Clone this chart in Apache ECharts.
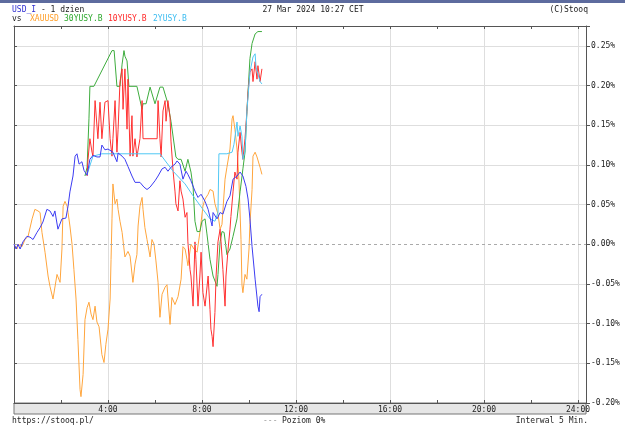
<!DOCTYPE html>
<html><head><meta charset="utf-8">
<script src="https://cdn.jsdelivr.net/npm/echarts@6/dist/echarts.min.js"></script>
<style>html,body{margin:0;padding:0;background:#fff}#c{width:625px;height:429px}</style>
</head><body><div id="c"></div>
<script>
// values: [hour of day, % change]
const usdI = [[0,0],[0.09,-0.006],[0.17,0],[0.26,-0.006],[0.38,0.003],[0.55,0.010],[0.68,0.009],[0.81,0.006],[0.98,0.015],[1.11,0.021],[1.23,0.028],[1.40,0.044],[1.53,0.042],[1.66,0.035],[1.74,0.042],[1.87,0.019],[2.04,0.032],[2.21,0.033],[2.30,0.048],[2.38,0.066],[2.51,0.086],[2.60,0.111],[2.68,0.114],[2.77,0.101],[2.89,0.104],[2.98,0.093],[3.11,0.087],[3.23,0.107],[3.36,0.112],[3.53,0.110],[3.66,0.110],[3.74,0.125],[3.87,0.119],[4.00,0.120],[4.21,0.116],[4.38,0.104],[4.43,0.115],[4.60,0.111],[4.72,0.107],[4.85,0.098],[5.02,0.086],[5.15,0.078],[5.36,0.078],[5.53,0.072],[5.66,0.069],[5.79,0.072],[6.00,0.080],[6.13,0.086],[6.30,0.095],[6.43,0.097],[6.55,0.092],[6.68,0.097],[6.85,0.101],[6.94,0.105],[7.06,0.101],[7.19,0.082],[7.32,0.092],[7.40,0.088],[7.53,0.080],[7.70,0.067],[7.83,0.059],[7.96,0.063],[8.13,0.054],[8.26,0.044],[8.43,0.023],[8.47,0.040],[8.64,0.032],[8.77,0.040],[8.89,0.038],[9.06,0.054],[9.19,0.061],[9.32,0.082],[9.49,0.086],[9.62,0.091],[9.74,0.086],[9.87,0.073],[9.96,0.057],[10.04,0.032],[10.13,-0.003],[10.26,-0.044],[10.38,-0.078],[10.43,-0.085],[10.47,-0.066],[10.55,-0.063]];
const xauusd = [[0,0],[0.13,-0.006],[0.17,0],[0.34,-0.003],[0.47,0.006],[0.60,0.010],[0.77,0.032],[0.89,0.044],[1.02,0.042],[1.11,0.040],[1.19,0.015],[1.32,-0.010],[1.45,-0.040],[1.53,-0.053],[1.66,-0.069],[1.83,-0.038],[1.96,-0.048],[2.04,-0.006],[2.09,0.048],[2.17,0.054],[2.26,0.048],[2.30,0.040],[2.38,0.023],[2.47,0],[2.55,-0.032],[2.64,-0.069],[2.72,-0.120],[2.81,-0.183],[2.85,-0.192],[2.94,-0.164],[3.02,-0.095],[3.11,-0.080],[3.19,-0.073],[3.28,-0.088],[3.36,-0.095],[3.45,-0.078],[3.53,-0.098],[3.62,-0.104],[3.74,-0.139],[3.83,-0.149],[3.91,-0.126],[4.00,-0.107],[4.09,-0.069],[4.13,-0.019],[4.17,0.032],[4.21,0.076],[4.30,0.051],[4.38,0.057],[4.43,0.044],[4.51,0.029],[4.60,0.015],[4.72,-0.016],[4.85,-0.009],[4.94,-0.015],[5.06,-0.048],[5.15,-0.025],[5.23,-0.013],[5.28,0.023],[5.36,0.048],[5.45,0.059],[5.49,0.044],[5.57,0.021],[5.66,0.006],[5.79,-0.016],[5.87,0.006],[5.96,0],[6.04,-0.021],[6.13,-0.048],[6.21,-0.092],[6.30,-0.063],[6.43,-0.054],[6.51,-0.051],[6.64,-0.101],[6.72,-0.067],[6.85,-0.076],[6.98,-0.066],[7.11,-0.044],[7.19,-0.003],[7.28,-0.006],[7.36,-0.019],[7.40,-0.027],[7.53,0],[7.66,-0.006],[7.79,-0.010],[7.91,0.015],[8.04,0.048],[8.13,0.057],[8.26,0.063],[8.34,0.069],[8.47,0.067],[8.55,0.051],[8.68,0.038],[8.77,0.019],[8.85,0.025],[8.98,0.082],[9.06,0.097],[9.19,0.120],[9.28,0.158],[9.32,0.162],[9.40,0.145],[9.49,0.120],[9.57,0.082],[9.66,0.006],[9.70,-0.051],[9.74,-0.061],[9.83,-0.038],[9.91,-0.044],[10.00,-0.006],[10.04,0.025],[10.13,0.069],[10.17,0.111],[10.26,0.116],[10.34,0.110],[10.38,0.111],[10.47,0.097],[10.55,0.088]];
const y30 = [[3.02,0.086],[3.11,0.097],[3.19,0.158],[3.23,0.199],[3.40,0.199],[4.17,0.244],[4.26,0.244],[4.38,0.199],[4.51,0.199],[4.60,0.227],[4.68,0.244],[4.72,0.237],[4.81,0.231],[4.89,0.199],[5.23,0.199],[5.45,0.170],[5.49,0.177],[5.62,0.177],[5.79,0.198],[6.00,0.177],[6.21,0.198],[6.34,0.198],[6.55,0.177],[6.68,0.155],[6.89,0.110],[6.98,0.107],[7.11,0.107],[7.28,0.092],[7.40,0.107],[7.53,0.091],[7.62,0.072],[7.70,0.029],[7.79,0.016],[7.91,0.016],[8.00,0.029],[8.13,0.032],[8.21,0.013],[8.34,-0.019],[8.47,-0.040],[8.64,-0.053],[8.68,-0.038],[8.77,0.003],[8.85,0.016],[8.94,0.015],[9.06,-0.013],[9.19,-0.006],[9.32,0.010],[9.49,0.032],[9.62,0.066],[9.74,0.095],[9.83,0.116],[9.91,0.167],[10.04,0.234],[10.13,0.253],[10.26,0.265],[10.38,0.268],[10.55,0.268]];
const y10 = [[3.11,0.086],[3.15,0.107],[3.23,0.133],[3.32,0.116],[3.36,0.111],[3.45,0.181],[3.53,0.181],[3.57,0.133],[3.66,0.179],[3.74,0.133],[3.79,0.133],[3.87,0.179],[4.00,0.181],[4.09,0.133],[4.17,0.111],[4.21,0.133],[4.30,0.181],[4.38,0.116],[4.43,0.145],[4.51,0.205],[4.60,0.221],[4.64,0.170],[4.72,0.221],[4.81,0.145],[4.85,0.208],[4.94,0.111],[5.02,0.162],[5.06,0.111],[5.15,0.133],[5.23,0.110],[5.36,0.133],[5.45,0.181],[5.49,0.133],[6.09,0.133],[6.13,0.181],[6.21,0.133],[6.26,0.110],[6.34,0.168],[6.43,0.181],[6.47,0.155],[6.55,0.181],[6.64,0.160],[6.68,0.130],[6.77,0.092],[6.85,0.067],[6.89,0.051],[6.98,0.042],[7.06,0.080],[7.11,0.067],[7.19,0.057],[7.28,0.034],[7.36,0.040],[7.40,0.003],[7.49,-0.032],[7.53,-0.040],[7.62,-0.078],[7.70,0.003],[7.74,-0.019],[7.83,-0.078],[7.91,-0.040],[7.96,-0.010],[8.04,-0.061],[8.13,-0.078],[8.26,-0.040],[8.34,-0.082],[8.38,-0.107],[8.43,-0.116],[8.47,-0.129],[8.55,-0.086],[8.60,-0.040],[8.68,0.003],[8.77,0.019],[8.81,0.003],[8.89,-0.032],[8.98,-0.078],[9.02,-0.040],[9.11,-0.006],[9.19,0.019],[9.23,0.035],[9.32,0.066],[9.40,0.091],[9.49,0.082],[9.53,0.116],[9.62,0.141],[9.70,0.116],[9.74,0.107],[9.83,0.133],[9.91,0.167],[9.96,0.192],[10.04,0.217],[10.13,0.221],[10.17,0.205],[10.26,0.230],[10.34,0.208],[10.38,0.225],[10.47,0.205],[10.55,0.221]];
const y2 = [[3.11,0.088],[3.36,0.111],[3.74,0.114],[6.21,0.114],[6.77,0.092],[7.28,0.076],[7.62,0.061],[8.04,0.044],[8.34,0.032],[8.55,0.029],[8.68,0.040],[8.72,0.114],[9.06,0.114],[9.28,0.116],[9.36,0.126],[9.49,0.154],[9.53,0.136],[9.62,0.149],[9.70,0.136],[9.74,0.107],[9.83,0.117],[9.91,0.167],[10.04,0.217],[10.17,0.236],[10.26,0.240],[10.30,0.223],[10.38,0.221],[10.47,0.205],[10.55,0.202]];
const seriesNames = ['XAUUSD','30YUSY.B','10YUSY.B','2YUSY.B','USD_I'];
const seriesColors = ['#ffa53c','#3dac3d','#ff3030','#50c8f4','#3c3cf2'];
const seriesData = [xauusd, y30, y10, y2, usdI];

const F = 'DejaVu Sans Mono, monospace';
const chart = echarts.init(document.getElementById('c'), null, {renderer:'canvas'});
const gridCol = '#dedede';
const xCommon = {type:'value', min:0, max:24.34, interval:4};
chart.setOption({
  animation:false,
  grid:{left:14, right:39, top:26, bottom:26, containLabel:false, outerBoundsMode:'none'},
  xAxis:[
    Object.assign({}, xCommon, {position:'bottom',
      axisLine:{show:true, onZero:false, lineStyle:{color:'#555', width:1}},
      axisTick:{show:true, inside:true, length:3, lineStyle:{color:'#555'}},
      minorTick:{show:true, splitNumber:2, length:3, lineStyle:{color:'#555'}},
      axisLabel:{margin:3, color:'#222', fontFamily:F, fontSize:8,
        formatter:v => (v>0 && Math.abs(v%4)<1e-6) ? (v+':00') : ''},
      splitLine:{show:true, lineStyle:{color:gridCol, width:1}}}),
    Object.assign({}, xCommon, {position:'top',
      axisLine:{show:true, onZero:false, lineStyle:{color:'#555', width:1}},
      axisTick:{show:true, inside:true, length:3, lineStyle:{color:'#555'}},
      minorTick:{show:true, splitNumber:2, length:3, lineStyle:{color:'#555'}},
      axisLabel:{show:false}, splitLine:{show:false}})
  ],
  yAxis:[{type:'value', position:'right', min:-0.2, max:0.275, interval:0.05,
    axisLine:{show:true, onZero:false, lineStyle:{color:'#555', width:1}},
    axisTick:{show:true, inside:false, length:4, lineStyle:{color:'#555'}},
    axisLabel:{margin:5, color:'#222', fontFamily:F, fontSize:8,
      formatter:v => Math.abs(v*20-Math.round(v*20))<1e-6 ? (v.toFixed(2)+'%') : ''},
    splitLine:{show:true, lineStyle:{color:[gridCol,gridCol,gridCol,gridCol,'rgba(0,0,0,0)',gridCol,gridCol,gridCol,gridCol,gridCol,gridCol], width:1}}
  },{type:'value', position:'left', min:-0.2, max:0.275, interval:0.05,
    axisLine:{show:true, onZero:false, lineStyle:{color:'#555'}},
    axisTick:{show:true, inside:true, length:3, lineStyle:{color:'#555'}},
    axisLabel:{show:false}, splitLine:{show:false}}],
  series: seriesData.map((d,i) => ({
    name:seriesNames[i], type:'line', data:d, showSymbol:false, symbol:'none',
    lineStyle:{color:seriesColors[i], width:1}, itemStyle:{color:seriesColors[i]},
    z: 2+i,
    markLine: i===0 ? {silent:true, symbol:'none', label:{show:false},
      lineStyle:{type:[3,3], color:'#aaaaaa', width:1}, data:[{yAxis:0}]} : undefined
  })),
  graphic:[
    {type:'rect', z:-5, shape:{x:0,y:0,width:625,height:3}, style:{fill:'#5d6b9e'}},
    {type:'rect', z:-5, shape:{x:14,y:403,width:572,height:11}, style:{fill:'#e6e6e6', stroke:'#777', lineWidth:1}},
    {type:'text', x:12, y:10, style:{text:'{b|USD_I}{k| - 1 dzien}', rich:{b:{fill:'#3030d0',fontFamily:F,fontSize:8},k:{fill:'#222',fontFamily:F,fontSize:8}}, verticalAlign:'middle'}},
    {type:'text', x:313, y:10, style:{text:'27 Mar 2024 10:27 CET', fill:'#222', fontFamily:F, fontSize:8, align:'center', verticalAlign:'middle'}},
    {type:'text', x:588, y:10, style:{text:'(C)Stooq', fill:'#222', fontFamily:F, fontSize:8, align:'right', verticalAlign:'middle'}},
    {type:'text', x:12, y:19, style:{text:'vs', fill:'#222', fontFamily:F, fontSize:8, verticalAlign:'middle'}},
    {type:'text', x:30, y:19, style:{text:'XAUUSD', fill:'#ff9f2a', fontFamily:F, fontSize:8, verticalAlign:'middle'}},
    {type:'text', x:64, y:19, style:{text:'30YUSY.B', fill:'#2ea82e', fontFamily:F, fontSize:8, verticalAlign:'middle'}},
    {type:'text', x:108, y:19, style:{text:'10YUSY.B', fill:'#ff2a2a', fontFamily:F, fontSize:8, verticalAlign:'middle'}},
    {type:'text', x:153, y:19, style:{text:'2YUSY.B', fill:'#3cbcf0', fontFamily:F, fontSize:8, verticalAlign:'middle'}},
    {type:'text', x:12, y:421, style:{text:'https://stooq.pl/', fill:'#222', fontFamily:F, fontSize:8, verticalAlign:'middle'}},
    {type:'text', x:263, y:421, style:{text:'--- ', fill:'#999', fontFamily:F, fontSize:8, verticalAlign:'middle'}},
    {type:'text', x:282, y:421, style:{text:'Poziom 0%', fill:'#222', fontFamily:F, fontSize:8, verticalAlign:'middle'}},
    {type:'text', x:588, y:421, style:{text:'Interwal 5 Min.', fill:'#222', fontFamily:F, fontSize:8, align:'right', verticalAlign:'middle'}}
  ]
});
</script></body></html>
